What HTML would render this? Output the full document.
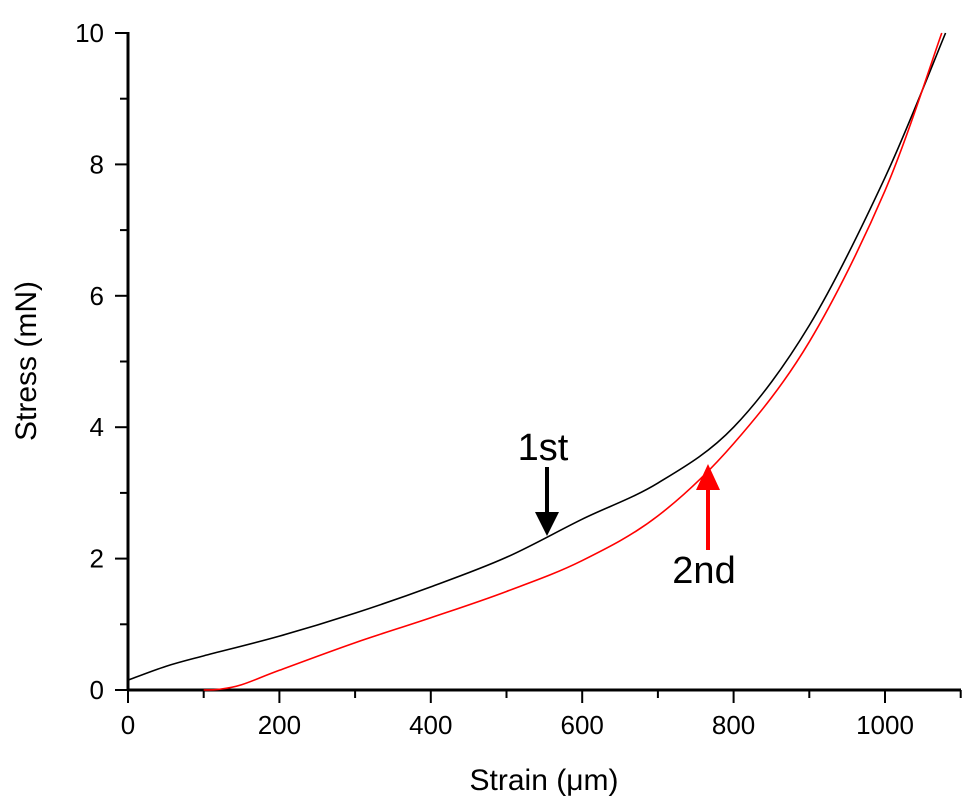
<!DOCTYPE html>
<html><head><meta charset="utf-8"><style>
body{margin:0;background:#fff}
svg{display:block;font-family:"Liberation Sans",Arial,sans-serif}
</style></head><body>
<svg id="chart" width="971" height="805" viewBox="0 0 971 805" xmlns="http://www.w3.org/2000/svg">
<g id="axes"></g>
<g id="series"></g>
<text x="544" y="790" font-size="30" text-anchor="middle">Strain (μm)</text>
<text transform="translate(36,361) rotate(-90)" font-size="30" text-anchor="middle">Stress (mN)</text>
<g>
<text x="543" y="460" font-size="38" text-anchor="middle">1st</text>
<line x1="547" y1="467" x2="547" y2="514" stroke="#000" stroke-width="4"/>
<polygon points="535,512 559,512 547,536" fill="#000"/>
</g>
<g>
<text x="704" y="583" font-size="38" text-anchor="middle" fill="#000">2nd</text>
<line x1="708" y1="550" x2="708" y2="486" stroke="#f00" stroke-width="4"/>
<polygon points="696,490 720,490 708,464" fill="#f00"/>
</g>
</svg>
<script>
const xTicks=[0,200,400,600,800,1000];
const yTicks=[0,2,4,6,8,10];
const firstX=[0,50,100,200,300,400,500,600,700,800,900,1000,1080];
const firstY=[0.15,0.36,0.52,0.82,1.17,1.57,2.02,2.6,3.15,4.0,5.55,7.8,10];
const secondX=[100,120,150,200,300,400,500,600,700,800,900,1000,1075];
const secondY=[0,0.01,0.08,0.3,0.72,1.1,1.5,1.97,2.65,3.75,5.3,7.6,10];
const X=v=>128+v*0.757, Y=v=>690-v*65.7;
const ns="http://www.w3.org/2000/svg";
const ax=document.getElementById('axes'), se=document.getElementById('series');
function mk(tag,attrs,parent){const e=document.createElementNS(ns,tag);for(const k in attrs)e.setAttribute(k,attrs[k]);parent.appendChild(e);return e;}
let l=mk('line',{x1:128,y1:690,x2:961,y2:690,stroke:'#000','stroke-width':3},ax);


l=mk('line',{x1:128,y1:690,x2:128,y2:32,stroke:'#000','stroke-width':3},ax);


for(let v=0;v<=1100;v+=100){const t=mk('line',{x1:X(v),y1:690,x2:X(v),y2:v%200==0?703:698,stroke:'#000','stroke-width':2},ax);

}
xTicks.forEach(v=>{const t=mk('text',{x:X(v),y:734,'font-size':26,'text-anchor':'middle'},ax);t.textContent=v;

});
for(let v=0;v<=10;v+=1){const t=mk('line',{x1:128,y1:Y(v),x2:v%2==0?115:120,y2:Y(v),stroke:'#000','stroke-width':2},ax);

}
yTicks.forEach(v=>{const t=mk('text',{x:104,y:Y(v)+9,'font-size':26,'text-anchor':'end'},ax);t.textContent=v;

});
function path(xs,ys){const p=xs.map((x,i)=>[X(x),Y(ys[i])]);let d='M'+p[0].join(',');
for(let i=0;i<p.length-1;i++){const p0=p[i-1]||p[i],p1=p[i],p2=p[i+1],p3=p[i+2]||p2;
d+=` C${p1[0]+(p2[0]-p0[0])/6},${p1[1]+(p2[1]-p0[1])/6} ${p2[0]-(p3[0]-p1[0])/6},${p2[1]-(p3[1]-p1[1])/6} ${p2[0]},${p2[1]}`;}return d;}
let s=mk('path',{d:path(firstX,firstY),fill:'none',stroke:'#000','stroke-width':1.6},se);


s=mk('path',{d:path(secondX,secondY),fill:'none',stroke:'#f00','stroke-width':1.6},se);


</script>
</body></html>
